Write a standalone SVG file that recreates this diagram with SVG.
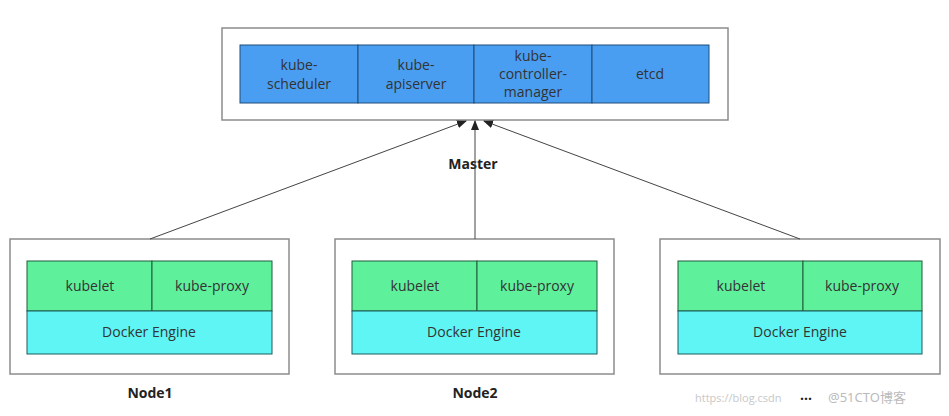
<svg xmlns="http://www.w3.org/2000/svg" width="949" height="416" viewBox="0 0 949 416">
<style>
.box{fill:#fff;stroke:#8c8c8c;stroke-width:1.5}
.m{fill:#4a9ef2;stroke:#1f4d7a;stroke-width:1}
.g{fill:#5ff09c;stroke:#1f5a3a;stroke-width:1}
.c{fill:#5ff5f5;stroke:#1f5a5a;stroke-width:1}
text{font-family:"Open Sans","Noto Sans",sans-serif;font-size:14px;fill:#333;text-anchor:middle}
.b{font-weight:bold;font-size:14px;fill:#222}
.w{font-size:11px;fill:#c8c8c8;text-anchor:start}
line{stroke:#444;stroke-width:1}
</style>
<defs><marker id="a" markerWidth="10" markerHeight="10" refX="9" refY="5" orient="auto" markerUnits="userSpaceOnUse"><path d="M0,1 L10,5 L0,9 Z" fill="#222"/></marker></defs>
<g id="master">
<rect class="box" x="222" y="28" width="506" height="92"/>
<rect class="m" x="240" y="45" width="118" height="58"/>
<rect class="m" x="358" y="45" width="116" height="58"/>
<rect class="m" x="474" y="45" width="118" height="58"/>
<rect class="m" x="592" y="45" width="117" height="58"/>
<text x="299" y="70">kube-</text><text x="299" y="89">scheduler</text>
<text x="416" y="70">kube-</text><text x="416" y="89">apiserver</text>
<text x="533" y="61">kube-</text><text x="533" y="79">controller-</text><text x="533" y="97">manager</text>
<text x="650" y="79">etcd</text>
<text class="b" x="473" y="169">Master</text>
</g>
<g id="node1">
<rect class="box" x="10" y="239" width="279" height="135"/>
<rect class="g" x="27" y="261" width="125" height="50"/><rect class="g" x="152" y="261" width="120" height="50"/>
<rect class="c" x="27" y="311" width="245" height="43"/>
<text x="90" y="291">kubelet</text><text x="212" y="291">kube-proxy</text><text x="149" y="337">Docker Engine</text>
<text class="b" x="150" y="398">Node1</text>
</g>
<g id="node2">
<rect class="box" x="335" y="239" width="279" height="135"/>
<rect class="g" x="352" y="261" width="125" height="50"/><rect class="g" x="477" y="261" width="120" height="50"/>
<rect class="c" x="352" y="311" width="245" height="43"/>
<text x="415" y="291">kubelet</text><text x="537" y="291">kube-proxy</text><text x="474" y="337">Docker Engine</text>
<text class="b" x="475" y="398">Node2</text>
</g>
<g id="node3">
<rect class="box" x="660" y="239" width="280" height="135"/>
<rect class="g" x="678" y="261" width="125" height="50"/><rect class="g" x="803" y="261" width="119" height="50"/>
<rect class="c" x="678" y="311" width="244" height="43"/>
<text x="741" y="291">kubelet</text><text x="862" y="291">kube-proxy</text><text x="800" y="337">Docker Engine</text>
<text class="b" x="806" y="400">...</text>
</g>
<g id="connectors">
<line x1="150" y1="239" x2="466" y2="121" marker-end="url(#a)"/>
<line x1="475" y1="239" x2="475" y2="121" marker-end="url(#a)"/>
<line x1="800" y1="239" x2="484" y2="121" marker-end="url(#a)"/>
</g>
<text class="w" x="695" y="402">https://blog.csdn</text>
<text class="w" x="828" y="402" style="font-family:'Noto Sans','Noto Sans CJK SC',sans-serif;font-size:13px;fill:#bbb">@51CTO博客</text>
</svg>
